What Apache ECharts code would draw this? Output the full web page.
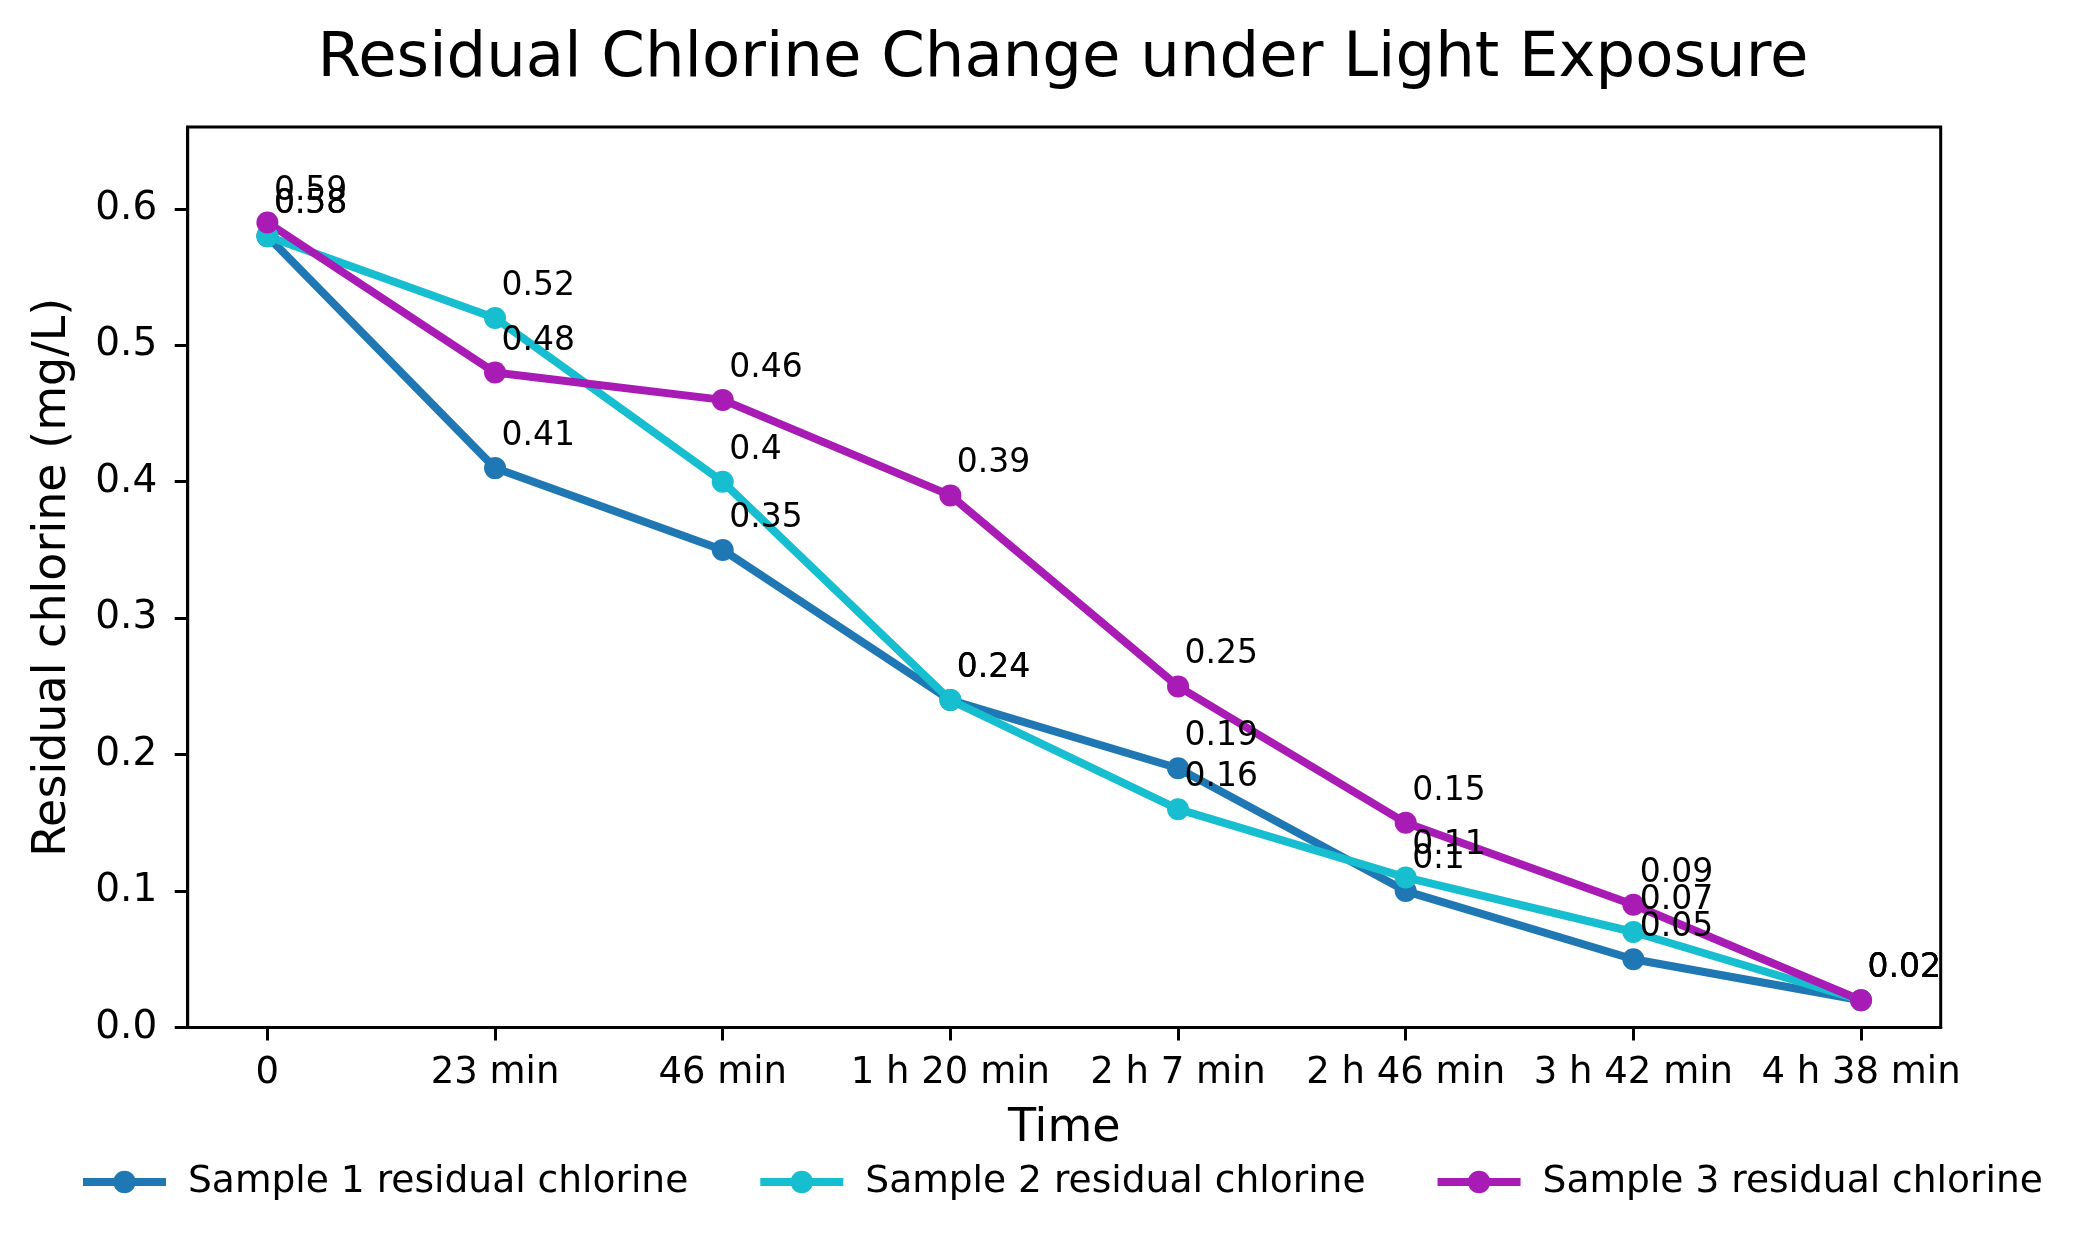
<!DOCTYPE html>
<html>
<head>
<meta charset="utf-8">
<script src="https://cdn.jsdelivr.net/npm/echarts@6/dist/echarts.min.js"></script>
<style>
  html, body { margin: 0; padding: 0; background: #fff; }
  #graph { width: 2089px; height: 1247px; }
</style>
</head>
<body>
<div id="graph"></div>
<script>
const timeLabels = ["0", "23 min", "46 min", "1 h 20 min", "2 h 7 min", "2 h 46 min", "3 h 42 min", "4 h 38 min"];
const sample1 = [0.58, 0.41, 0.35, 0.24, 0.19, 0.10, 0.05, 0.02];
const sample2 = [0.58, 0.52, 0.40, 0.24, 0.16, 0.11, 0.07, 0.02];
const sample3 = [0.59, 0.48, 0.46, 0.39, 0.25, 0.15, 0.09, 0.02];
const seriesNames = ["Sample 1 residual chlorine", "Sample 2 residual chlorine", "Sample 3 residual chlorine"];
const yTicks = [0, 0.1, 0.2, 0.3, 0.4, 0.5, 0.6];

const colors = ["#1f77b4", "#17becf", "#a91bb5"];
const FONT = "DejaVu Sans";

function makeSeries(name, values, color) {
    return {
        name: name,
        type: "line",
        data: values.map((v, i) => [i, v]),
        symbol: "circle",
        symbolSize: 22,
        lineStyle: { color: color, width: 8 },
        itemStyle: { color: color },
        label: {
            show: true,
            position: [17.5, -20.5],
            align: "left",
            verticalAlign: "middle",
            fontFamily: FONT,
            fontSize: 33,
            color: "#000",
            formatter: (p) => String(p.value[1])
        }
    };
}

function createOptions() {
    const tickIdx = timeLabels.map((_, i) => i);
    return {
        animation: false,
        backgroundColor: "#fff",
        title: {
            text: "Residual Chlorine Change under Light Exposure",
            left: 1058,
            textAlign: "center",
            top: 23,
            textStyle: { fontFamily: FONT, fontSize: 62.5, fontWeight: "normal", color: "#000" }
        },
        legend: {
            data: seriesNames,
            left: 79,
            top: 1163,
            padding: 0,
            itemWidth: 83,
            itemHeight: 28,
            itemGap: 68,
            lineStyle: { width: 8 },
            itemStyle: { borderWidth: 0 },
            textStyle: { fontFamily: FONT, fontSize: 37.6, color: "#000", padding: [0, 0, 0, 17] }
        },
        grid: {
            left: 187.7,
            right: 148.3,
            top: 127,
            bottom: 219.5,
            show: true,
            borderColor: "#000",
            borderWidth: 3,
            containLabel: false
        },
        xAxis: {
            type: "value",
            min: -0.35,
            max: 7.35,
            name: "Time",
            nameLocation: "middle",
            nameGap: 79,
            nameTextStyle: { fontFamily: FONT, fontSize: 46, color: "#000" },
            splitLine: { show: false },
            axisLine: { show: true, onZero: false, lineStyle: { color: "#000", width: 3 } },
            axisTick: { show: true, customValues: tickIdx, length: 13, lineStyle: { color: "#000", width: 3 } },
            axisLabel: {
                customValues: tickIdx,
                margin: 27.5,
                fontFamily: FONT,
                fontSize: 37,
                color: "#000",
                formatter: (v) => timeLabels[Math.round(v)]
            }
        },
        yAxis: {
            type: "value",
            min: 0,
            max: 0.66,
            name: "Residual chlorine (mg/L)",
            nameLocation: "middle",
            nameGap: 112,
            nameTextStyle: { fontFamily: FONT, fontSize: 46, color: "#000" },
            splitLine: { show: false },
            axisLine: { show: true, onZero: false, lineStyle: { color: "#000", width: 3 } },
            axisTick: { show: true, customValues: yTicks, length: 13, lineStyle: { color: "#000", width: 3 } },
            axisLabel: {
                customValues: yTicks,
                margin: 30.5,
                fontFamily: FONT,
                fontSize: 39,
                color: "#000",
                formatter: (v) => v.toFixed(1)
            }
        },
        series: [
            makeSeries(seriesNames[0], sample1, colors[0]),
            makeSeries(seriesNames[1], sample2, colors[1]),
            makeSeries(seriesNames[2], sample3, colors[2])
        ]
    };
}

const container = document.getElementById("graph");
const myChart = echarts.init(container);
myChart.setOption(createOptions());
</script>
</body>
</html>
